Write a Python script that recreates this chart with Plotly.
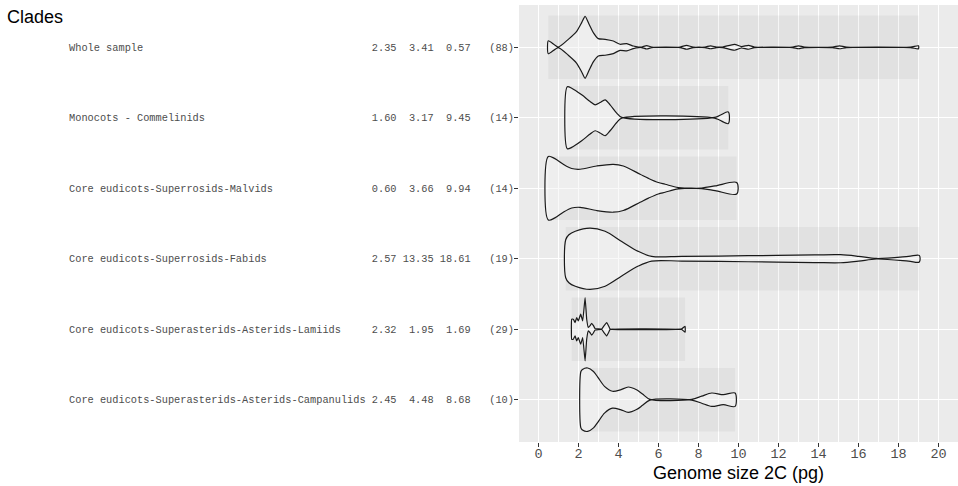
import plotly.graph_objects as go

# ---------------- data ----------------
clades = [
    "Whole sample",
    "Monocots - Commelinids",
    "Core eudicots-Superrosids-Malvids",
    "Core eudicots-Superrosids-Fabids",
    "Core eudicots-Superasterids-Asterids-Lamiids",
    "Core eudicots-Superasterids-Asterids-Campanulids",
]
stat1 = [2.35, 1.60, 0.60, 2.57, 2.32, 2.45]
stat2 = [3.41, 3.17, 3.66, 13.35, 1.95, 4.48]
stat3 = [0.57, 9.45, 9.94, 18.61, 1.69, 8.68]
counts = [88, 14, 14, 19, 29, 10]

x_ticks = [0, 2, 4, 6, 8, 10, 12, 14, 16, 18, 20]

# violin outlines: genome size positions and half-widths
ws_x = [0.49, 0.99, 1.49, 1.91, 2.16, 2.33, 2.53, 2.74, 2.99, 3.33, 3.74, 4.08, 4.41, 4.74, 5.0,
        5.16, 5.41, 5.66, 7.08, 7.4, 7.73, 8.33, 8.6, 8.9, 9.2, 9.8, 10.15, 10.5, 10.8,
        12.7, 13.0, 13.3, 14.7, 15.05, 15.4, 18.6, 19.0]
ws_w = [0.092, 0.004, 0.113, 0.227, 0.35, 0.44, 0.326, 0.208, 0.123, 0.113, 0.089, 0.043, 0.052, 0.018, 0.004,
        0.004, 0.024, 0.004, 0.004, 0.028, 0.004, 0.004, 0.021, 0.004, 0.004, 0.042, 0.01, 0.028, 0.004,
        0.004, 0.021, 0.004, 0.004, 0.021, 0.004, 0.004, 0.021]

mc_x = [1.44, 1.66, 2.16, 2.58, 2.83, 3.08, 3.33, 3.58, 3.91, 4.16, 8.8, 9.49]
mc_w = [0.44, 0.42, 0.326, 0.231, 0.184, 0.217, 0.255, 0.184, 0.067, 0.005, 0.005, 0.083]

mv_x = [0.49, 0.82, 1.24, 1.66, 2.08, 2.91, 3.74, 4.24, 5.08, 5.5, 5.99, 6.33, 6.99, 8.16, 8.83, 9.91]
mv_w = [0.45, 0.42, 0.34, 0.28, 0.27, 0.316, 0.34, 0.316, 0.199, 0.14, 0.081, 0.057, 0.01, 0.004, 0.033, 0.081]

fb_x = [1.36, 1.52, 1.84, 2.57, 3.33, 4.16, 4.99, 5.66, 7.16, 10.49, 13.8, 15.1, 16.0, 16.9, 18.5, 19.04]
fb_w = [0.27, 0.34, 0.39, 0.435, 0.39, 0.245, 0.104, 0.033, 0.033, 0.043, 0.054, 0.057, 0.035, 0.004, 0.033, 0.047]

lm_x = [1.66, 1.74, 1.83, 1.91, 1.99, 2.11, 2.21, 2.33, 2.41, 2.49, 2.58, 2.66, 2.75, 2.83,
        3.16, 3.28, 3.41, 3.5, 3.58, 7.16, 7.33]
lm_w = [0.142, 0.142, 0.095, 0.166, 0.118, 0.213, 0.118, 0.45, 0.142, 0.024, 0.05, 0.085, 0.05, 0.01,
        0.004, 0.05, 0.095, 0.05, 0.004, 0.004, 0.043]

cp_x = [2.12, 2.2, 2.46, 2.75, 2.99, 3.3, 3.7, 4.1, 4.49, 4.9, 5.2, 5.57, 7.66, 8.16, 8.66, 9.24, 9.83]
cp_w = [0.40, 0.43, 0.45, 0.40, 0.31, 0.19, 0.12, 0.14, 0.18, 0.14, 0.08, 0.005, 0.005, 0.05, 0.095, 0.071, 0.095]

violins = [(ws_x, ws_w), (mc_x, mc_w), (mv_x, mv_w), (fb_x, fb_w), (lm_x, lm_w), (cp_x, cp_w)]
smooth = [0.6, 0.8, 0.9, 0.9, 0.3, 0.8]

# ---------------- figure ----------------
W, H = 958, 486
L, R, T, B = 519, 0, 5, 44
pw, ph = W - L - R, H - T - B

fig = go.Figure()
shapes = []
for i, ((xs, ws), sm) in enumerate(zip(violins, smooth)):
    shapes.append(dict(type="rect", xref="x", yref="y", x0=min(xs), x1=max(xs),
                       y0=i - 0.45, y1=i + 0.45, fillcolor="rgba(0,0,0,0.04)",
                       line=dict(width=0), layer="between"))
    px = list(xs) + list(xs)[::-1] + [xs[0]]
    py = [i - w for w in ws] + [i + w for w in ws][::-1] + [i - ws[0]]
    fig.add_trace(go.Scatter(x=px, y=py, mode="lines", fill="toself",
                             fillcolor="rgba(255,255,255,0.45)",
                             line=dict(color="#1a1a1a", width=1.2, shape="spline", smoothing=sm),
                             hoverinfo="skip", showlegend=False))

nb = "\u00a0"
ticktext = [
    f"{c:<48} {a:4.2f} {b:5.2f} {d:5.2f}   ({n})".replace(" ", nb)
    for c, a, b, d, n in zip(clades, stat1, stat2, stat3, counts)
]

fig.update_layout(
    width=W, height=H,
    margin=dict(l=L, r=R, t=T, b=B, pad=0),
    paper_bgcolor="white",
    plot_bgcolor="#EBEBEB",
    shapes=shapes,
    xaxis=dict(
        range=[-0.975, 20.975], tickmode="array", tickvals=x_ticks,
        ticktext=[str(v) for v in x_ticks],
        showgrid=True, gridcolor="white", gridwidth=1.4, zeroline=False,
        minor=dict(dtick=1, tick0=1, showgrid=True, gridcolor="white", gridwidth=0.6, ticks=""),
        ticks="outside", ticklen=4, tickwidth=1, tickcolor="#333333",
        tickfont=dict(family="Liberation Mono", size=13.5, color="#4d4d4d"),
        ticklabelstandoff=-5,
        showline=False, fixedrange=True,
    ),
    yaxis=dict(
        range=[5.6, -0.6], tickmode="array", tickvals=list(range(len(clades))),
        ticktext=ticktext,
        showgrid=True, gridcolor="white", gridwidth=1.4, zeroline=False,
        ticks="outside", ticklen=4, tickwidth=1, tickcolor="#333333",
        tickfont=dict(family="Liberation Mono", size=10.3, color="#4d4d4d"),
        ticklabelstandoff=-2,
        showline=False, fixedrange=True,
    ),
    annotations=[
        dict(text="Clades", xref="paper", yref="paper",
             x=(5 - L) / pw, y=1 - (17 - T) / ph, xanchor="left", yanchor="middle",
             showarrow=False, font=dict(family="Liberation Sans", size=18, color="black")),
        dict(text="Genome size 2C (pg)", xref="paper", yref="paper",
             x=0.5, y=1 - (473 - T) / ph, xanchor="center", yanchor="middle",
             showarrow=False, font=dict(family="Liberation Sans", size=18, color="black")),
    ],
)

fig.write_html("out.html", config={"displayModeBar": False},
               post_script="document.body.style.margin='0';document.body.style.padding='0';")
